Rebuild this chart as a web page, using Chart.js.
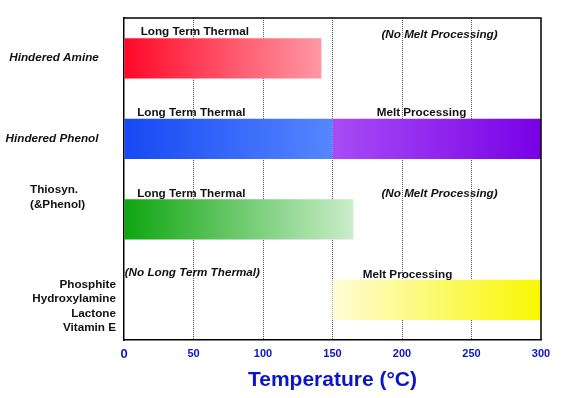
<!DOCTYPE html>
<html>
<head>
<meta charset="utf-8">
<script src="https://cdn.jsdelivr.net/npm/chart.js@4.4.1/dist/chart.umd.min.js"></script>
<style>
  body { margin: 0; background: #fff; }
  #wrap { width: 563px; height: 398px; position: relative; }
</style>
</head>
<body>
<div id="wrap"><canvas id="tempChart"></canvas></div>
<script>
// DATA
const categories = ['Hindered Amine', 'Hindered Phenol', 'Thiosyn. (&Phenol)', 'Phosphite / Hydroxylamine / Lactone / Vitamin E'];
const longTermThermal = [[0, 142], [0, 150], [0, 165], null];
const meltProcessing = [null, [150, 300], null, [150, 300]];
const thermalNotes = ['Long Term Thermal', 'Long Term Thermal', 'Long Term Thermal', '(No Long Term Thermal)'];
const meltNotes = ['(No Melt Processing)', 'Melt Processing', '(No Melt Processing)', 'Melt Processing'];
const xTicks = [0, 50, 100, 150, 200, 250, 300];

// colours for each bar (left -> right)
const thermalColors = [['#ff0828', '#ff98a4'], ['#1648f4', '#5686ff'], ['#0fa510', '#caedca'], null];
const meltColors = [null, ['#a84cf6', '#7800e6'], null, ['#fffcd8', '#f8f700']];

// y labels: lines, italic, alignment
const yLabels = [
    { lines: ['Hindered Amine'], italic: true, align: 'center', x: 54 },
    { lines: ['Hindered Phenol'], italic: true, align: 'center', x: 52 },
    { lines: ['Thiosyn.', '(&Phenol)'], italic: false, align: 'left', x: 30 },
    { lines: ['Phosphite', 'Hydroxylamine', 'Lactone', 'Vitamin E'], italic: false, align: 'right', x: 116 }
];

const FONT = '"Liberation Sans", Arial, sans-serif';

function barGradient(colors) {
    return function (ctx) {
        const chart = ctx.chart;
        const raw = ctx.raw;
        const c = colors[ctx.dataIndex];
        if (!chart.chartArea || !raw || !c) return c ? c[0] : 'rgba(0,0,0,0)';
        const xs = chart.scales.x;
        const g = chart.ctx.createLinearGradient(xs.getPixelForValue(raw[0]), 0, xs.getPixelForValue(raw[1]), 0);
        g.addColorStop(0, c[0]);
        g.addColorStop(1, c[1]);
        return g;
    };
}

// Draws the frame, y labels and the notes above the bars
const notesPlugin = {
    id: 'notes',
    afterDraw(chart) {
        const ctx = chart.ctx;
        const a = chart.chartArea;
        const xs = chart.scales.x;
        const ys = chart.scales.y;
        ctx.save();
        // top and right frame
        ctx.strokeStyle = '#000';
        ctx.lineWidth = 1.5;
        ctx.beginPath();
        ctx.moveTo(a.left, a.top);
        ctx.lineTo(a.right, a.top);
        ctx.lineTo(a.right, a.bottom);
        ctx.stroke();

        // category labels
        ctx.fillStyle = '#111';
        ctx.textBaseline = 'middle';
        yLabels.forEach((lab, i) => {
            const cy = ys.getPixelForValue(i);
            ctx.font = (lab.italic ? 'italic ' : '') + 'bold 11.7px ' + FONT;
            ctx.textAlign = lab.align;
            const lh = 14.5;
            const y0 = i === 3 ? cy - 15 : (i === 2 ? cy - 29 : cy);
            lab.lines.forEach((t, k) => ctx.fillText(t, lab.x, y0 + k * lh));
        });

        // notes above the bars
        thermalNotes.forEach((t, i) => {
            const italic = t.startsWith('(');
            const cy = ys.getPixelForValue(i) - (i === 0 ? 26 : (italic ? 27 : 25.5));
            ctx.font = (italic ? 'italic ' : '') + 'bold 11.7px ' + FONT;
            ctx.textAlign = 'left';
            const start = italic ? 0.5 : (i === 0 ? 12 : 9.5);
            ctx.fillText(t, xs.getPixelForValue(start), cy);
        });
        meltNotes.forEach((t, i) => {
            const italic = t.startsWith('(');
            const cy = ys.getPixelForValue(i) - (italic ? (i === 0 ? 23 : 25) : (i === 1 ? 26 : 25));
            ctx.font = (italic ? 'italic ' : '') + 'bold 11.7px ' + FONT;
            ctx.textAlign = 'center';
            const mid = italic ? 227 : (i === 1 ? 214 : 204);
            ctx.fillText(t, xs.getPixelForValue(mid), cy);
        });
        ctx.restore();
    }
};

const chart = new Chart(document.getElementById('tempChart').getContext('2d'), {
    type: 'bar',
    data: {
        labels: categories,
        datasets: [{
            label: 'Long Term Thermal',
            data: longTermThermal,
            backgroundColor: barGradient(thermalColors),
            borderWidth: 0,
            grouped: false,
            barPercentage: 0.5,
            categoryPercentage: 1
        }, {
            label: 'Melt Processing',
            data: meltProcessing,
            backgroundColor: barGradient(meltColors),
            borderWidth: 0,
            grouped: false,
            barPercentage: 0.5,
            categoryPercentage: 1
        }]
    },
    options: {
        indexAxis: 'y',
        responsive: true,
        maintainAspectRatio: false,
        animation: false,
        layout: { padding: { top: 18, right: 22, left: 0, bottom: 0 } },
        plugins: {
            legend: { display: false },
            tooltip: { enabled: false }
        },
        scales: {
            x: {
                min: 0,
                max: 300,
                afterBuildTicks: scale => { scale.ticks = xTicks.map(v => ({ value: v })); },
                afterFit: scale => { scale.height = 58; },
                grid: {
                    color: ctx => (ctx.tick && (ctx.tick.value === 0 || ctx.tick.value === 300)) ? 'rgba(0,0,0,0)' : '#555',
                    lineWidth: 1,
                    drawTicks: false
                },
                border: { display: true, color: '#000', width: 1.5, dash: [1, 1] },
                ticks: {
                    color: '#0a14c8',
                    padding: 7,
                    font: ctx => ({
                        family: FONT,
                        weight: 'bold',
                        size: ctx.tick && ctx.tick.value === 0 ? 13 : 11
                    })
                },
                title: {
                    display: true,
                    text: 'Temperature (°C)',
                    color: '#0a14c8',
                    padding: { top: 6, bottom: 5 },
                    font: { family: FONT, weight: 'bold', size: 21 }
                }
            },
            y: {
                grid: { display: false },
                border: { display: true, color: '#000', width: 1.5 },
                ticks: { display: false },
                afterFit: scale => { scale.width = 124; }
            }
        }
    },
    plugins: [notesPlugin]
});
</script>
</body>
</html>
